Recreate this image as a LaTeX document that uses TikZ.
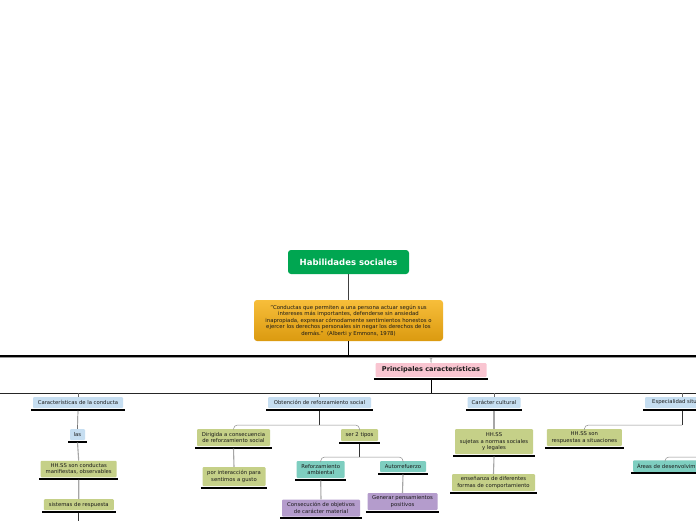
\documentclass[tikz,border=0pt]{standalone}
\usepackage{fontspec}
\setmainfont{DejaVu Sans}
\definecolor{hgreen}{RGB}{0,166,81}
\definecolor{qtop}{RGB}{247,190,58}
\definecolor{qbot}{RGB}{219,154,16}
\definecolor{pinkc}{RGB}{249,197,209}
\definecolor{bluec}{RGB}{198,222,241}
\definecolor{olivec}{RGB}{197,208,136}
\definecolor{tealc}{RGB}{126,206,192}
\definecolor{purplec}{RGB}{180,156,204}
\definecolor{txt}{RGB}{25,25,25}
\newcommand\ulline[1]{\draw[line width=2pt,black] ([xshift=-1.5pt,yshift=-1.3pt]#1.south west) -- ([xshift=1.5pt,yshift=-1.3pt]#1.south east);}
\tikzset{
  bx/.style={rectangle, rounded corners=1pt, inner sep=0pt, align=center, text=txt,
    font=\fontsize{5.3}{6.4}\selectfont},
  bluebox/.style={bx, fill=bluec},
  olivebox/.style={bx, fill=olivec},
  tealbox/.style={bx, fill=tealc},
  purplebox/.style={bx, fill=purplec},
  darkline/.style={draw=black!80, line width=0.9pt},
  thinline/.style={draw=black!45, line width=0.5pt, rounded corners=4pt},
  greyline/.style={draw=black!35, line width=1.1pt},
}
\begin{document}
\begin{tikzpicture}[x=1pt,y=-1pt]
\useasboundingbox (0,0) rectangle (696,520);
\clip (0,0) rectangle (696,520);
\fill[white] (0,0) rectangle (696,520);

% main nodes
\node[rectangle, rounded corners=3pt, fill=hgreen, text=white, minimum width=121pt, minimum height=24pt,
  font=\fontsize{8.5}{10}\selectfont\bfseries] (hab) at (348.5,262) {Habilidades sociales};
\node[rectangle, rounded corners=3pt, top color=qtop, bottom color=qbot, minimum width=189pt, minimum height=41pt,
  inner sep=0pt, align=center, text=txt, font=\fontsize{5.35}{6.5}\selectfont] (quote) at (348.5,320.5)
  {"Conductas que permiten a una persona actuar según sus\\
   intereses más importantes, defenderse sin ansiedad\\
   inapropiada, expresar cómodamente sentimientos honestos o\\
   ejercer los derechos personales sin negar los derechos de los\\
   demás."\ \ (Alberti y Emmons, 1978)};
\node[rectangle, rounded corners=1pt, fill=pinkc, minimum width=111pt, minimum height=14pt, inner sep=0pt,
  text=txt, font=\fontsize{6.6}{7.5}\selectfont\bfseries] (princ) at (431,370) {Principales características};

% level 2
\node[bluebox, minimum width=90pt, minimum height=11pt] (car) at (78,402.5) {Características de la conducta};
\node[bluebox, minimum width=103pt, minimum height=11pt] (obt) at (319.5,402.5) {Obtención de reforzamiento social};
\node[bluebox, minimum width=53pt, minimum height=11pt] (cul) at (494,402.5) {Carácter cultural};
\node[bluebox, minimum width=78pt, minimum height=11pt] (esp) at (684,402.5) {Especialidad situacional};

% under Caracteristicas
\node[bluebox, minimum width=15pt, minimum height=11pt] (las) at (77.5,434.5) {las};
\node[olivebox, minimum width=76pt, minimum height=16.5pt] (hh1) at (78.7,469) {HH.SS son conductas\\manifiestas, observables};
\node[olivebox, minimum width=70pt, minimum height=11pt] (sis) at (78.8,504.7) {sistemas de respuesta};
\coordinate (sisend) at (78.8,522);

% under Obtencion
\node[olivebox, minimum width=73pt, minimum height=17pt] (dir) at (233.5,437.5) {Dirigida a consecuencia\\de reforzamiento social};
\node[olivebox, minimum width=63pt, minimum height=19pt] (por) at (234,476.5) {por interacción para\\sentimos a gusto};
\node[olivebox, minimum width=37pt, minimum height=12pt] (ser) at (359.5,435) {ser 2 tipos};
\node[tealbox, minimum width=48pt, minimum height=17pt] (ref) at (320.7,469.5) {Reforzamiento\\ambiental};
\node[tealbox, minimum width=46pt, minimum height=11pt] (aut) at (403,466.5) {Autorrefuerzo};
\node[purplebox, minimum width=78pt, minimum height=17pt] (cons) at (321,508) {Consecución de objetivos\\de carácter material};
\node[purplebox, minimum width=70pt, minimum height=17pt] (gen) at (402.5,501.7) {Generar pensamientos\\positivos};

% under Caracter cultural
\node[olivebox, minimum width=78pt, minimum height=25pt] (hh2) at (494,441.6) {HH.SS\\sujetas a normas sociales\\y legales};
\node[olivebox, minimum width=83pt, minimum height=17pt] (ens) at (493.5,482.5) {enseñanza de diferentes\\formas de comportamiento};

% under Especialidad
\node[olivebox, minimum width=75pt, minimum height=17pt] (hh3) at (584.4,437.5) {HH.SS son\\respuestas a situaciones};
\node[tealbox, minimum width=80pt, minimum height=11.5pt] (areas) at (673,466) {Áreas de desenvolvimiento};

% underlines
\foreach \n in {princ,car,obt,cul,esp,las,hh1,sis,dir,por,ser,ref,aut,cons,gen,hh2,ens,hh3,areas}{\ulline{\n}}

% coordinates for connector junctions
\coordinate (j0) at (348.5,356);
\coordinate (jL) at (0,356);
\coordinate (jR) at (696,356);
\coordinate (gL) at (0,357.6);
\coordinate (gR) at (696,357.6);
\coordinate (j1) at (431,393);
\coordinate (bL) at (0,393);
\coordinate (bR) at (696,393);
\coordinate (d1) at (78,393);
\coordinate (d2) at (319.5,393);
\coordinate (d3) at (494,393);
\coordinate (d4) at (682,393);
\coordinate (o1) at (319.5,425);
\coordinate (s1) at (359.5,457);
\coordinate (e1) at (682,425);
\coordinate (ar) at (700,457);

% connectors
\draw[draw=black!75, line width=0.8pt] (hab.south) -- (quote.north);
\draw[draw=black, line width=1pt] (quote.south) -- (j0);
\draw[draw=black, line width=1.4pt] (jL) -- (jR);
\draw[draw=black!40, line width=0.5pt] (gL) -- (gR);
\draw[draw=black!40, line width=0.5pt] (426,357.6) .. controls (431,357.6) .. (431,362) -- (princ.north);
\draw[draw=black!40, line width=0.5pt] (436,357.6) .. controls (431,357.6) .. (431,362);
\draw[draw=black, line width=1pt] ([yshift=-2.3pt]princ.south) -- (j1);
\draw[draw=black!85, line width=0.9pt] (bL) -- (bR);
\foreach \a/\b in {d1/car,d2/obt,d3/cul}{\draw[draw=black!60, line width=0.5pt] (\a) -- (\b.north);}
\draw[draw=black!60, line width=0.5pt] (d4) -- (682,397);

\draw[darkline, draw=black!55, line width=0.7pt] ([yshift=-2.3pt]car.south) -- (las.north);
\draw[greyline] ([yshift=-2.3pt]las.south) -- (hh1.north);
\draw[greyline] ([yshift=-2.3pt]hh1.south) -- (sis.north);
\draw[darkline] ([yshift=-2.3pt]sis.south) -- (sisend);

\draw[darkline] ([yshift=-2.3pt]obt.south) -- (o1);
\draw[thinline] (dir.north) -- (233.5,425) -- (359.5,425) -- (ser.north);
\draw[greyline] ([yshift=-2.3pt]dir.south) -- (por.north);
\draw[darkline] ([yshift=-2.3pt]ser.south) -- (s1);
\draw[thinline] (ref.north) -- (320.7,457) -- (403,457) -- (aut.north);
\draw[greyline] ([yshift=-2.3pt]ref.south) -- (cons.north);
\draw[greyline] ([yshift=-2.3pt]aut.south) -- (gen.north);

\draw[greyline] ([yshift=-2.3pt]cul.south) -- (hh2.north);
\draw[greyline] ([yshift=-2.3pt]hh2.south) -- (ens.north);

\draw[darkline] (682,410.5) -- (e1);
\draw[thinline] (e1) -- (584.4,425) -- (hh3.north);
\draw[thinline] (ar) -- (665,457) -- (665,460.2);
\end{tikzpicture}
\end{document}
